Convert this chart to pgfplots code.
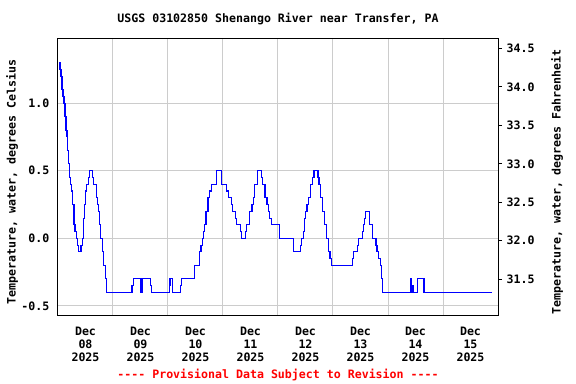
\documentclass[border=0pt]{standalone}
\usepackage{fontspec}
\setmainfont{DejaVu Sans Mono}
\usepackage{pgfplots}
\pgfplotsset{compat=1.18}
\definecolor{gridgray}{RGB}{204,204,204}
\definecolor{usgsblue}{RGB}{0,0,255}
\definecolor{usgsred}{RGB}{255,0,0}
\pgfplotstableread{
h v
0.44 1.30
0.87 1.25
1.31 1.20
1.75 1.10
2.18 1.05
2.62 1.00
3.05 0.90
3.49 0.80
3.93 0.75
4.23 0.65
4.67 0.55
5.11 0.45
5.54 0.40
5.98 0.35
6.41 0.25
6.98 0.10
7.42 0.05
7.99 0.00
8.42 -0.05
8.86 -0.10
10.04 -0.05
10.60 0.00
11.04 0.15
11.48 0.25
11.91 0.35
12.52 0.40
13.22 0.45
13.66 0.50
14.97 0.45
15.40 0.40
16.89 0.30
17.32 0.25
17.76 0.20
18.20 0.10
18.63 0.00
19.51 -0.10
19.94 -0.20
20.81 -0.30
21.25 -0.40
32.29 -0.35
32.86 -0.30
35.91 -0.40
36.22 -0.30
36.52 -0.40
36.96 -0.30
40.28 -0.35
40.71 -0.40
48.57 -0.35
48.87 -0.30
49.88 -0.40
53.37 -0.35
53.80 -0.30
59.48 -0.20
61.66 -0.10
62.40 -0.05
63.14 0.00
63.40 0.05
63.84 0.10
64.58 0.20
65.45 0.30
66.02 0.35
66.89 0.40
69.08 0.50
71.26 0.40
73.61 0.35
74.49 0.30
75.62 0.25
76.23 0.20
77.37 0.15
77.80 0.10
79.55 0.05
79.99 0.00
81.73 0.05
82.17 0.10
83.48 0.20
84.65 0.25
85.40 0.30
85.83 0.40
87.14 0.50
88.71 0.45
89.32 0.40
90.33 0.30
91.20 0.25
91.94 0.20
92.38 0.15
93.25 0.10
96.57 0.00
102.68 -0.10
105.73 -0.05
106.34 0.00
107.04 0.05
107.48 0.15
107.91 0.20
108.65 0.25
109.22 0.30
110.09 0.40
110.97 0.45
111.71 0.50
113.45 0.45
113.89 0.40
114.63 0.30
115.33 0.20
116.20 0.10
117.08 0.00
117.95 -0.10
118.69 -0.15
119.26 -0.20
128.60 -0.15
129.04 -0.10
130.78 -0.05
131.22 0.00
132.79 0.05
133.40 0.10
133.84 0.15
134.27 0.20
136.02 0.10
137.32 0.00
138.76 -0.05
139.20 -0.10
139.94 -0.15
140.64 -0.20
141.08 -0.30
141.51 -0.40
154.04 -0.30
154.34 -0.40
154.60 -0.35
154.91 -0.40
156.78 -0.30
159.71 -0.40
189.51 -0.40
}\temps
\begin{document}
\begin{tikzpicture}[x=1pt,y=1pt,font=\fontsize{8.7}{9.75}\selectfont\bfseries]
\useasboundingbox (-43.5,-51) rectangle (388.5,237);
\begin{axis}[
  at={(0,0)}, anchor=south west,
  scale only axis, width=330pt, height=207.75pt,
  xmin=0, xmax=192, ymin=-0.574, ymax=1.474,
  axis line style={line width=0.75pt},
  xtick={24,48,72,96,120,144,168}, xticklabels={},
  extra x ticks={12,36,60,84,108,132,156,180},
  extra x tick labels={{Dec\\08\\2025},{Dec\\09\\2025},{Dec\\10\\2025},{Dec\\11\\2025},{Dec\\12\\2025},{Dec\\13\\2025},{Dec\\14\\2025},{Dec\\15\\2025}},
  extra tick style={grid=none},
  xticklabel style={align=center, anchor=north, yshift=-4.6pt},
  major tick length=0pt,
  ytick={-0.5,0,0.5,1.0},
  yticklabel style={/pgf/number format/fixed, /pgf/number format/fixed zerofill, /pgf/number format/precision=1, xshift=-3pt},
  /pgf/number format/assume math mode=true,
  grid=major, grid style={gridgray, line width=0.75pt},
  axis on top=false,
]
\addplot[const plot, usgsblue, line width=0.8pt] table[x=h, y=v] {\temps};
\end{axis}
\begin{axis}[
  at={(0,0)}, anchor=south west,
  scale only axis, width=330pt, height=207.75pt,
  xmin=0, xmax=192, ymin=31.023, ymax=34.621,
  hide x axis, axis y line*=right,
  axis line style={line width=0.75pt},
  ytick={31.5,32.0,32.5,33.0,33.5,34.0,34.5},
  yticklabel style={/pgf/number format/fixed, /pgf/number format/fixed zerofill, /pgf/number format/precision=1},
  /pgf/number format/assume math mode=true,
  tick align=outside, major tick length=3pt,
  tick style={black, line width=0.75pt},
]
\addplot[draw=none] coordinates {(0,32) (192,32)};
\end{axis}
\node at (165,222.75) {USGS 03102850 Shenango River near Transfer, PA};
\node[rotate=90] at (-34.5,100.5) {Temperature, water, degrees Celsius};
\node[rotate=90] at (374.25,100.5) {Temperature, water, degrees Fahrenheit};
\node[text=usgsred] at (165,-44.25) {-{}-{}-{}- Provisional Data Subject to Revision -{}-{}-{}-};
\end{tikzpicture}
\end{document}
